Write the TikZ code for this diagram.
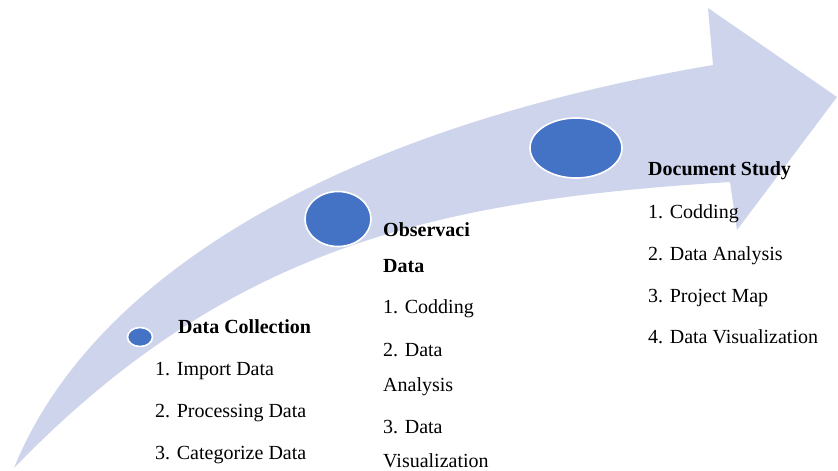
\documentclass[tikz,border=0pt]{standalone}
\usepackage{fontspec}
\setmainfont{Liberation Serif}
\usetikzlibrary{shapes.geometric}
\definecolor{arrowfill}{RGB}{206,212,235}
\definecolor{dotblue}{RGB}{68,114,196}
\begin{document}
\begin{tikzpicture}[x=1pt,y=-1pt,
  dot/.style={ellipse, fill=dotblue, draw=white, line width=1.6pt, inner sep=0pt},
  lbl/.style={anchor=base west, inner sep=0pt, font=\fontsize{20}{24}\selectfont},
  head/.style={lbl, font=\fontsize{20}{24}\selectfont\bfseries}]
\useasboundingbox (0,0) rectangle (838,471);

% curved arrow band: upper edge, head, lower edge back to the tail
\fill[arrowfill]
  (14,468) .. controls (90,280) and (330,130) .. (713,65)
  -- (708,8) -- (837,97) -- (737,230) -- (730,182)
  .. controls (440,200) and (230,245) .. (14,468)
  -- cycle;

% milestone dots
\node[dot, minimum width=25pt, minimum height=19pt] (d1) at (140,337) {};
\node[dot, minimum width=66pt, minimum height=55pt] (d2) at (338,219) {};
\node[dot, minimum width=92pt, minimum height=60pt] (d3) at (576,148) {};

% first stage
\node[head] (h1) at (178,333) {Data Collection};
\node[lbl] (a1) at (155,375) {1. Import Data};
\node[lbl] (a2) at (155,417) {2. Processing Data};
\node[lbl] (a3) at (155,459) {3. Categorize Data};

% second stage
\node[head] (h2a) at (383,236) {Observaci};
\node[head] (h2b) at (383,272) {Data};
\node[lbl] (b1) at (383,313) {1. Codding};
\node[lbl] (b2a) at (383,356) {2. Data};
\node[lbl] (b2b) at (383,391) {Analysis};
\node[lbl] (b3a) at (383,433) {3. Data};
\node[lbl] (b3b) at (383,467) {Visualization};

% third stage
\node[head] (h3) at (648,175) {Document Study};
\node[lbl] (c1) at (648,218) {1. Codding};
\node[lbl] (c2) at (648,260) {2. Data Analysis};
\node[lbl] (c3) at (648,302) {3. Project Map};
\node[lbl] (c4) at (648,343) {4. Data Visualization};
\end{tikzpicture}
\end{document}
